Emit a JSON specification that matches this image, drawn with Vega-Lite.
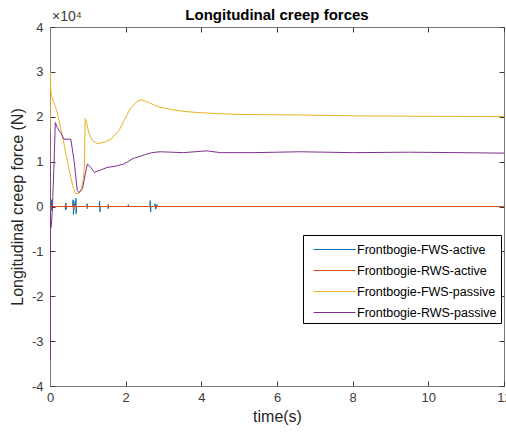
{
  "$schema": "https://vega.github.io/schema/vega-lite/v6.json",
  "width": 454,
  "height": 359,
  "autosize": {"type": "none"},
  "padding": {"left": 50, "top": 27, "right": 2, "bottom": 48},
  "background": "white",
  "title": {"text": "Longitudinal creep forces", "font": "Liberation Sans", "fontSize": 15, "fontWeight": "bold", "color": "#000000", "offset": -13, "anchor": "middle"},
  "config": {
    "view": {"stroke": "#7a7a7a", "strokeWidth": 1},
    "axis": {"labelFont": "Liberation Sans", "labelFontSize": 13, "labelColor": "#3a3a3a", "titleFont": "Liberation Sans", "titleFontSize": 16, "titleFontWeight": "normal", "titleColor": "#262626", "domainColor": "#7a7a7a", "tickColor": "#3a3a3a", "tickSize": -5, "grid": false},
    "legend": {"labelFont": "Liberation Sans"}
  },
  "datasets": {
    "curves": [
      {"series": "Frontbogie-FWS-active", "t": 0, "f": 0},
      {"series": "Frontbogie-FWS-active", "t": 0.04, "f": 0},
      {"series": "Frontbogie-FWS-active", "t": 0.045, "f": 1500},
      {"series": "Frontbogie-FWS-active", "t": 0.05, "f": -1000},
      {"series": "Frontbogie-FWS-active", "t": 0.055, "f": 0},
      {"series": "Frontbogie-FWS-active", "t": 0.4, "f": 0},
      {"series": "Frontbogie-FWS-active", "t": 0.41, "f": -800},
      {"series": "Frontbogie-FWS-active", "t": 0.42, "f": 800},
      {"series": "Frontbogie-FWS-active", "t": 0.43, "f": -600},
      {"series": "Frontbogie-FWS-active", "t": 0.44, "f": 0},
      {"series": "Frontbogie-FWS-active", "t": 0.6, "f": 0},
      {"series": "Frontbogie-FWS-active", "t": 0.61, "f": 1500},
      {"series": "Frontbogie-FWS-active", "t": 0.62, "f": -1800},
      {"series": "Frontbogie-FWS-active", "t": 0.63, "f": 1200},
      {"series": "Frontbogie-FWS-active", "t": 0.64, "f": 0},
      {"series": "Frontbogie-FWS-active", "t": 0.68, "f": 0},
      {"series": "Frontbogie-FWS-active", "t": 0.685, "f": 1800},
      {"series": "Frontbogie-FWS-active", "t": 0.69, "f": -1600},
      {"series": "Frontbogie-FWS-active", "t": 0.7, "f": 0},
      {"series": "Frontbogie-FWS-active", "t": 0.97, "f": 0},
      {"series": "Frontbogie-FWS-active", "t": 0.98, "f": 600},
      {"series": "Frontbogie-FWS-active", "t": 0.99, "f": 0},
      {"series": "Frontbogie-FWS-active", "t": 1.3, "f": 0},
      {"series": "Frontbogie-FWS-active", "t": 1.31, "f": 1200},
      {"series": "Frontbogie-FWS-active", "t": 1.32, "f": -1200},
      {"series": "Frontbogie-FWS-active", "t": 1.33, "f": 0},
      {"series": "Frontbogie-FWS-active", "t": 1.53, "f": 0},
      {"series": "Frontbogie-FWS-active", "t": 1.54, "f": -500},
      {"series": "Frontbogie-FWS-active", "t": 1.55, "f": 0},
      {"series": "Frontbogie-FWS-active", "t": 2.06, "f": 0},
      {"series": "Frontbogie-FWS-active", "t": 2.07, "f": 400},
      {"series": "Frontbogie-FWS-active", "t": 2.08, "f": 0},
      {"series": "Frontbogie-FWS-active", "t": 2.64, "f": 0},
      {"series": "Frontbogie-FWS-active", "t": 2.65, "f": 1300},
      {"series": "Frontbogie-FWS-active", "t": 2.66, "f": -1200},
      {"series": "Frontbogie-FWS-active", "t": 2.67, "f": 0},
      {"series": "Frontbogie-FWS-active", "t": 2.77, "f": 0},
      {"series": "Frontbogie-FWS-active", "t": 2.78, "f": 600},
      {"series": "Frontbogie-FWS-active", "t": 2.79, "f": -600},
      {"series": "Frontbogie-FWS-active", "t": 2.8, "f": 0},
      {"series": "Frontbogie-FWS-active", "t": 2.83, "f": 400},
      {"series": "Frontbogie-FWS-active", "t": 2.84, "f": 0},
      {"series": "Frontbogie-FWS-active", "t": 12, "f": 0},

      {"series": "Frontbogie-RWS-active", "t": 0, "f": 0},
      {"series": "Frontbogie-RWS-active", "t": 0.01, "f": 1000},
      {"series": "Frontbogie-RWS-active", "t": 0.02, "f": -500},
      {"series": "Frontbogie-RWS-active", "t": 0.03, "f": 0},
      {"series": "Frontbogie-RWS-active", "t": 0.4, "f": 0},
      {"series": "Frontbogie-RWS-active", "t": 0.41, "f": 500},
      {"series": "Frontbogie-RWS-active", "t": 0.42, "f": -400},
      {"series": "Frontbogie-RWS-active", "t": 0.43, "f": 0},
      {"series": "Frontbogie-RWS-active", "t": 0.62, "f": 0},
      {"series": "Frontbogie-RWS-active", "t": 0.63, "f": -900},
      {"series": "Frontbogie-RWS-active", "t": 0.64, "f": 700},
      {"series": "Frontbogie-RWS-active", "t": 0.65, "f": 0},
      {"series": "Frontbogie-RWS-active", "t": 0.98, "f": 0},
      {"series": "Frontbogie-RWS-active", "t": 0.985, "f": -500},
      {"series": "Frontbogie-RWS-active", "t": 0.99, "f": 0},
      {"series": "Frontbogie-RWS-active", "t": 1.53, "f": 0},
      {"series": "Frontbogie-RWS-active", "t": 1.54, "f": 500},
      {"series": "Frontbogie-RWS-active", "t": 1.55, "f": 0},
      {"series": "Frontbogie-RWS-active", "t": 2.8, "f": 0},
      {"series": "Frontbogie-RWS-active", "t": 2.81, "f": -400},
      {"series": "Frontbogie-RWS-active", "t": 2.82, "f": 0},
      {"series": "Frontbogie-RWS-active", "t": 12, "f": 0},

      {"series": "Frontbogie-FWS-passive", "t": 0, "f": 9000},
      {"series": "Frontbogie-FWS-passive", "t": 0.005, "f": 30000},
      {"series": "Frontbogie-FWS-passive", "t": 0.02, "f": 26000},
      {"series": "Frontbogie-FWS-passive", "t": 0.035, "f": 25000},
      {"series": "Frontbogie-FWS-passive", "t": 0.07, "f": 24000},
      {"series": "Frontbogie-FWS-passive", "t": 0.11, "f": 23000},
      {"series": "Frontbogie-FWS-passive", "t": 0.15, "f": 22000},
      {"series": "Frontbogie-FWS-passive", "t": 0.19, "f": 21000},
      {"series": "Frontbogie-FWS-passive", "t": 0.28, "f": 17500},
      {"series": "Frontbogie-FWS-passive", "t": 0.37, "f": 14000},
      {"series": "Frontbogie-FWS-passive", "t": 0.46, "f": 10000},
      {"series": "Frontbogie-FWS-passive", "t": 0.55, "f": 6500},
      {"series": "Frontbogie-FWS-passive", "t": 0.62, "f": 4000},
      {"series": "Frontbogie-FWS-passive", "t": 0.68, "f": 2900},
      {"series": "Frontbogie-FWS-passive", "t": 0.77, "f": 2900},
      {"series": "Frontbogie-FWS-passive", "t": 0.83, "f": 4000},
      {"series": "Frontbogie-FWS-passive", "t": 0.88, "f": 6000},
      {"series": "Frontbogie-FWS-passive", "t": 0.91, "f": 9000},
      {"series": "Frontbogie-FWS-passive", "t": 0.93, "f": 19600},
      {"series": "Frontbogie-FWS-passive", "t": 0.97, "f": 18500},
      {"series": "Frontbogie-FWS-passive", "t": 1.03, "f": 16300},
      {"series": "Frontbogie-FWS-passive", "t": 1.12, "f": 14700},
      {"series": "Frontbogie-FWS-passive", "t": 1.25, "f": 14000},
      {"series": "Frontbogie-FWS-passive", "t": 1.43, "f": 14300},
      {"series": "Frontbogie-FWS-passive", "t": 1.61, "f": 15000},
      {"series": "Frontbogie-FWS-passive", "t": 1.83, "f": 17000},
      {"series": "Frontbogie-FWS-passive", "t": 1.96, "f": 19200},
      {"series": "Frontbogie-FWS-passive", "t": 2.12, "f": 21800},
      {"series": "Frontbogie-FWS-passive", "t": 2.3, "f": 23400},
      {"series": "Frontbogie-FWS-passive", "t": 2.43, "f": 23800},
      {"series": "Frontbogie-FWS-passive", "t": 2.6, "f": 23200},
      {"series": "Frontbogie-FWS-passive", "t": 2.83, "f": 22300},
      {"series": "Frontbogie-FWS-passive", "t": 3.09, "f": 21800},
      {"series": "Frontbogie-FWS-passive", "t": 3.52, "f": 21200},
      {"series": "Frontbogie-FWS-passive", "t": 3.97, "f": 20900},
      {"series": "Frontbogie-FWS-passive", "t": 4.42, "f": 20700},
      {"series": "Frontbogie-FWS-passive", "t": 5.03, "f": 20500},
      {"series": "Frontbogie-FWS-passive", "t": 6.62, "f": 20400},
      {"series": "Frontbogie-FWS-passive", "t": 8, "f": 20200},
      {"series": "Frontbogie-FWS-passive", "t": 10, "f": 20100},
      {"series": "Frontbogie-FWS-passive", "t": 12, "f": 20050},

      {"series": "Frontbogie-RWS-passive", "t": 0, "f": 17000},
      {"series": "Frontbogie-RWS-passive", "t": 0.005, "f": -34000},
      {"series": "Frontbogie-RWS-passive", "t": 0.012, "f": -1000},
      {"series": "Frontbogie-RWS-passive", "t": 0.02, "f": -4500},
      {"series": "Frontbogie-RWS-passive", "t": 0.03, "f": -4700},
      {"series": "Frontbogie-RWS-passive", "t": 0.06, "f": -1000},
      {"series": "Frontbogie-RWS-passive", "t": 0.1, "f": 8000},
      {"series": "Frontbogie-RWS-passive", "t": 0.14, "f": 18700},
      {"series": "Frontbogie-RWS-passive", "t": 0.19, "f": 17600},
      {"series": "Frontbogie-RWS-passive", "t": 0.28, "f": 16500},
      {"series": "Frontbogie-RWS-passive", "t": 0.37, "f": 15000},
      {"series": "Frontbogie-RWS-passive", "t": 0.55, "f": 15000},
      {"series": "Frontbogie-RWS-passive", "t": 0.64, "f": 10000},
      {"series": "Frontbogie-RWS-passive", "t": 0.72, "f": 3600},
      {"series": "Frontbogie-RWS-passive", "t": 0.77, "f": 3100},
      {"series": "Frontbogie-RWS-passive", "t": 0.86, "f": 4000},
      {"series": "Frontbogie-RWS-passive", "t": 0.9, "f": 5800},
      {"series": "Frontbogie-RWS-passive", "t": 0.95, "f": 8000},
      {"series": "Frontbogie-RWS-passive", "t": 0.99, "f": 9500},
      {"series": "Frontbogie-RWS-passive", "t": 1.08, "f": 8700},
      {"series": "Frontbogie-RWS-passive", "t": 1.17, "f": 7600},
      {"series": "Frontbogie-RWS-passive", "t": 1.3, "f": 8000},
      {"series": "Frontbogie-RWS-passive", "t": 1.51, "f": 8700},
      {"series": "Frontbogie-RWS-passive", "t": 1.74, "f": 9000},
      {"series": "Frontbogie-RWS-passive", "t": 1.96, "f": 9500},
      {"series": "Frontbogie-RWS-passive", "t": 2.2, "f": 10700},
      {"series": "Frontbogie-RWS-passive", "t": 2.46, "f": 11400},
      {"series": "Frontbogie-RWS-passive", "t": 2.69, "f": 12000},
      {"series": "Frontbogie-RWS-passive", "t": 2.91, "f": 12200},
      {"series": "Frontbogie-RWS-passive", "t": 3.52, "f": 12000},
      {"series": "Frontbogie-RWS-passive", "t": 4.15, "f": 12400},
      {"series": "Frontbogie-RWS-passive", "t": 4.5, "f": 12000},
      {"series": "Frontbogie-RWS-passive", "t": 5.38, "f": 12000},
      {"series": "Frontbogie-RWS-passive", "t": 6.62, "f": 12200},
      {"series": "Frontbogie-RWS-passive", "t": 8, "f": 12000},
      {"series": "Frontbogie-RWS-passive", "t": 9.5, "f": 12100},
      {"series": "Frontbogie-RWS-passive", "t": 12, "f": 11900}
    ],
    "note": [{"label": "×10⁴", "t": 0, "f": 40000}]
  },
  "resolve": {"axis": {"x": "independent", "y": "independent"}},
  "layer": [
    {
      "data": {"name": "curves"},
      "transform": [{"filter": "datum.series === 'Frontbogie-FWS-active'"}],
      "mark": {"type": "line", "strokeWidth": 1, "clip": true},
      "encoding": {
        "x": {"field": "t", "type": "quantitative", "scale": {"domain": [0, 12], "nice": false, "zero": false},
              "axis": {"orient": "bottom", "title": "time(s)", "values": [0, 2, 4, 6, 8, 10, 12], "labelPadding": 10, "titlePadding": 4, "labelFlush": false}},
        "y": {"field": "f", "type": "quantitative", "scale": {"domain": [-40000, 40000], "nice": false},
              "axis": {"orient": "left", "title": "Longitudinal creep force (N)", "values": [-40000, -30000, -20000, -10000, 0, 10000, 20000, 30000, 40000], "labelExpr": "datum.value / 10000", "labelPadding": 12, "titlePadding": 6, "labelFlush": false}},
        "color": {"field": "series", "type": "nominal",
                  "scale": {"domain": ["Frontbogie-FWS-active", "Frontbogie-RWS-active", "Frontbogie-FWS-passive", "Frontbogie-RWS-passive"], "range": ["#0072BD", "#D95319", "#EDB120", "#7E2F8E"]},
                  "legend": {"title": null, "orient": "none", "legendX": 253, "legendY": 208, "fillColor": "white", "strokeColor": "#000000", "padding": 4, "symbolType": "M-2.1,0H2.1", "symbolSize": 400, "symbolOffset": 17, "symbolStrokeWidth": 1, "symbolFillColor": "transparent", "symbolOpacity": 1, "labelFontSize": 12.5, "labelColor": "#000000", "rowPadding": 4, "labelOffset": 12}}
      }
    },
    {
      "data": {"name": "curves"},
      "transform": [{"filter": "datum.series === 'Frontbogie-RWS-active'"}],
      "mark": {"type": "line", "strokeWidth": 1, "clip": true},
      "encoding": {
        "x": {"field": "t", "type": "quantitative", "axis": null},
        "y": {"field": "f", "type": "quantitative", "axis": null},
        "color": {"field": "series", "type": "nominal", "legend": null}
      }
    },
    {
      "data": {"name": "curves"},
      "transform": [{"filter": "datum.series === 'Frontbogie-FWS-passive'"}],
      "mark": {"type": "line", "strokeWidth": 1, "clip": true},
      "encoding": {
        "x": {"field": "t", "type": "quantitative", "axis": null},
        "y": {"field": "f", "type": "quantitative", "axis": null},
        "color": {"field": "series", "type": "nominal", "legend": null}
      }
    },
    {
      "data": {"name": "curves"},
      "transform": [{"filter": "datum.series === 'Frontbogie-RWS-passive'"}],
      "mark": {"type": "line", "strokeWidth": 1, "clip": true},
      "encoding": {
        "x": {"field": "t", "type": "quantitative", "axis": null},
        "y": {"field": "f", "type": "quantitative", "axis": null},
        "color": {"field": "series", "type": "nominal", "legend": null}
      }
    },
    {
      "data": {"name": "note"},
      "mark": {"type": "text", "align": "left", "baseline": "bottom", "dx": 2, "dy": -3, "font": "Liberation Sans", "fontSize": 14, "color": "#3a3a3a"},
      "encoding": {
        "x": {"field": "t", "type": "quantitative", "axis": {"orient": "top", "title": null, "labels": false, "domain": false, "values": [0, 2, 4, 6, 8, 10, 12]}},
        "y": {"field": "f", "type": "quantitative", "axis": {"orient": "right", "title": null, "labels": false, "domain": false, "values": [-40000, -30000, -20000, -10000, 0, 10000, 20000, 30000, 40000]}},
        "text": {"field": "label"}
      }
    }
  ]
}
